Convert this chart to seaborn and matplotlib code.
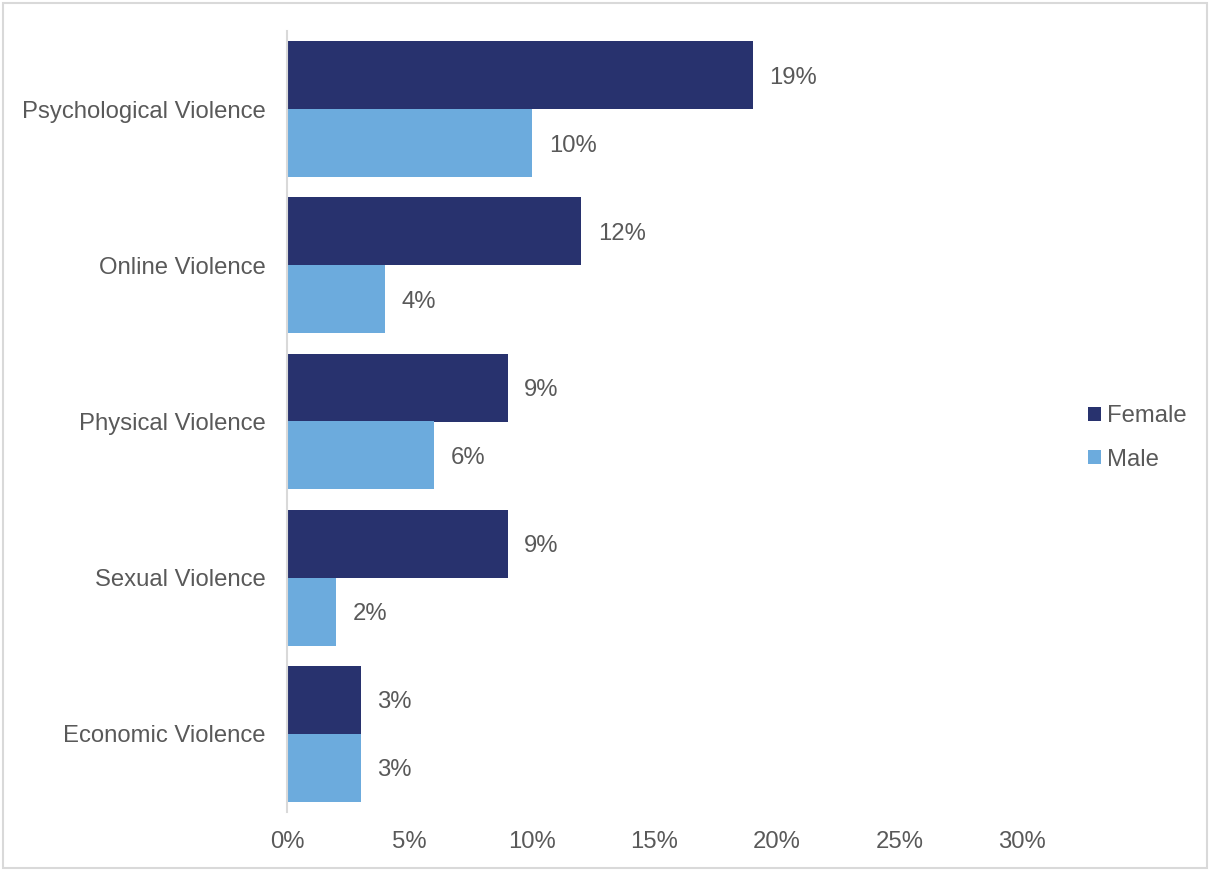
import matplotlib
matplotlib.use("Agg")
import matplotlib.pyplot as plt
from matplotlib.patches import Rectangle
from matplotlib.ticker import PercentFormatter, MultipleLocator
import seaborn as sns
import pandas as pd

categories = ["Psychological Violence", "Online Violence", "Physical Violence",
              "Sexual Violence", "Economic Violence"]
female = [19, 12, 9, 9, 3]
male = [10, 4, 6, 2, 3]
groups = ["Female", "Male"]
colors = ["#28326E", "#6CABDD"]

df = pd.DataFrame({
    "category": categories * 2,
    "value": female + male,
    "sex": ["Female"] * len(categories) + ["Male"] * len(categories),
})

sns.set_theme(style="white")
plt.rcParams["font.family"] = ["Liberation Sans", "DejaVu Sans"]
text_color = "#595959"
fsize = 17.2

fig = plt.figure(figsize=(12.12, 8.71), dpi=100)
ax = fig.add_axes([287 / 1212, 1 - 812 / 871, (1022 - 287) / 1212, (812 - 31) / 871])

sns.barplot(data=df, y="category", x="value", hue="sex", hue_order=groups,
            order=categories, orient="h", palette=colors, width=0.87,
            saturation=1, linewidth=0, ax=ax, errorbar=None)

for container in ax.containers:
    labels = ax.bar_label(container,
                          labels=[f"{v:.0f}%" for v in container.datavalues],
                          padding=12, fontsize=fsize, color=text_color)
    for lbl in labels:
        lbl.set_va("center_baseline")

ax.set_xlim(0, 30)
ax.set_ylim(4.5, -0.5)
ax.xaxis.set_major_locator(MultipleLocator(5))
ax.xaxis.set_major_formatter(PercentFormatter(xmax=100, decimals=0))
ax.set_xlabel("")
ax.set_ylabel("")
ax.tick_params(axis="both", length=0, labelsize=fsize, colors=text_color)
ax.tick_params(axis="x", pad=14)
ax.tick_params(axis="y", pad=15.5)
for side in ["top", "right", "bottom"]:
    ax.spines[side].set_visible(False)
ax.spines["left"].set_color("#D9D9D9")
ax.spines["left"].set_linewidth(1.5)

leg = ax.legend(loc="center left", bbox_to_anchor=(1066 / 1212, 1 - 438 / 871),
                bbox_transform=fig.transFigure, frameon=False, fontsize=fsize,
                handlelength=0.55, handleheight=0.55, handletextpad=0.25,
                labelspacing=0.88)
for t in leg.get_texts():
    t.set_color(text_color)

fig.patches.append(Rectangle((3 / 1212, 3 / 871), 1204 / 1212, 865 / 871,
                             transform=fig.transFigure, fill=False,
                             edgecolor="#D9D9D9", linewidth=1.5))

fig.savefig("out.png", dpi=100, facecolor="white")
